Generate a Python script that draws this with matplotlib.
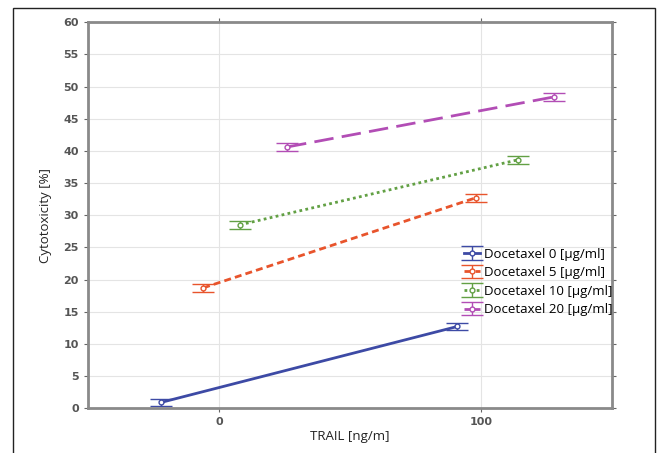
import matplotlib.pyplot as plt
from matplotlib.patches import Rectangle

# data (x positions are offset per series, as drawn)
series_names = ['Docetaxel 0 [µg/ml]', 'Docetaxel 5 [µg/ml]',
                'Docetaxel 10 [µg/ml]', 'Docetaxel 20 [µg/ml]']
x_d0 = [-22, 91]
y_d0 = [0.9, 12.7]
x_d5 = [-6, 98]
y_d5 = [18.7, 32.7]
x_d10 = [8, 114]
y_d10 = [28.5, 38.6]
x_d20 = [26, 128]
y_d20 = [40.6, 48.4]
err = 0.6

xticks = [0, 100]
yticks = list(range(0, 61, 5))

colors = ['#3d4aa5', '#e8542c', '#62a044', '#b24db5']
styles = ['-', (0, (2.5, 1.5)), (0, (1, 1.2)), (0, (7, 3))]

fig = plt.figure(figsize=(6.61, 4.53), dpi=100)
ax = fig.add_axes([0.133, 0.099, 0.793, 0.852])

xs = [x_d0, x_d5, x_d10, x_d20]
ys = [y_d0, y_d5, y_d10, y_d20]
for i in range(4):
    ax.errorbar(xs[i], ys[i], yerr=err, color=colors[i], linestyle=styles[i],
                linewidth=2, marker='o', markersize=3.5, markerfacecolor='white',
                markeredgewidth=1, capsize=8, elinewidth=1, capthick=1,
                label=series_names[i])

ax.set_xlim(-50, 150)
ax.set_ylim(0, 60)
ax.set_xticks(xticks)
ax.set_yticks(yticks)
ax.grid(True, color='#e4e4e4', linewidth=0.8)
ax.set_axisbelow(True)
for s in ax.spines.values():
    s.set_color('#8a8a8a')
    s.set_linewidth(2)
ax.tick_params(direction='out', length=3, color='#666666', labelcolor='#555555',
               labelsize=8, top=True, right=True)
for lab in ax.get_xticklabels() + ax.get_yticklabels():
    lab.set_fontweight('bold')

ax.set_ylabel('Cytotoxicity [%]', fontsize=9.5, color='#222222', labelpad=8,
              family='Open Sans')
ax.set_xlabel('TRAIL [ng/m]', fontsize=9.5, color='#222222', labelpad=2,
              family='Open Sans')

ax.legend(loc='upper left', bbox_to_anchor=(0.7, 0.44), frameon=False,
          prop={'family': 'Open Sans', 'size': 9.5}, handlelength=1.2,
          handletextpad=0.3, labelspacing=0.42, borderpad=0.2)

# outer frame of the figure
fig.patches.append(Rectangle((13 / 661, -0.02), 642 / 661, (445 + 9) / 453,
                             transform=fig.transFigure, fill=False,
                             edgecolor='#222222', linewidth=1))

plt.savefig('out.png', dpi=100)
